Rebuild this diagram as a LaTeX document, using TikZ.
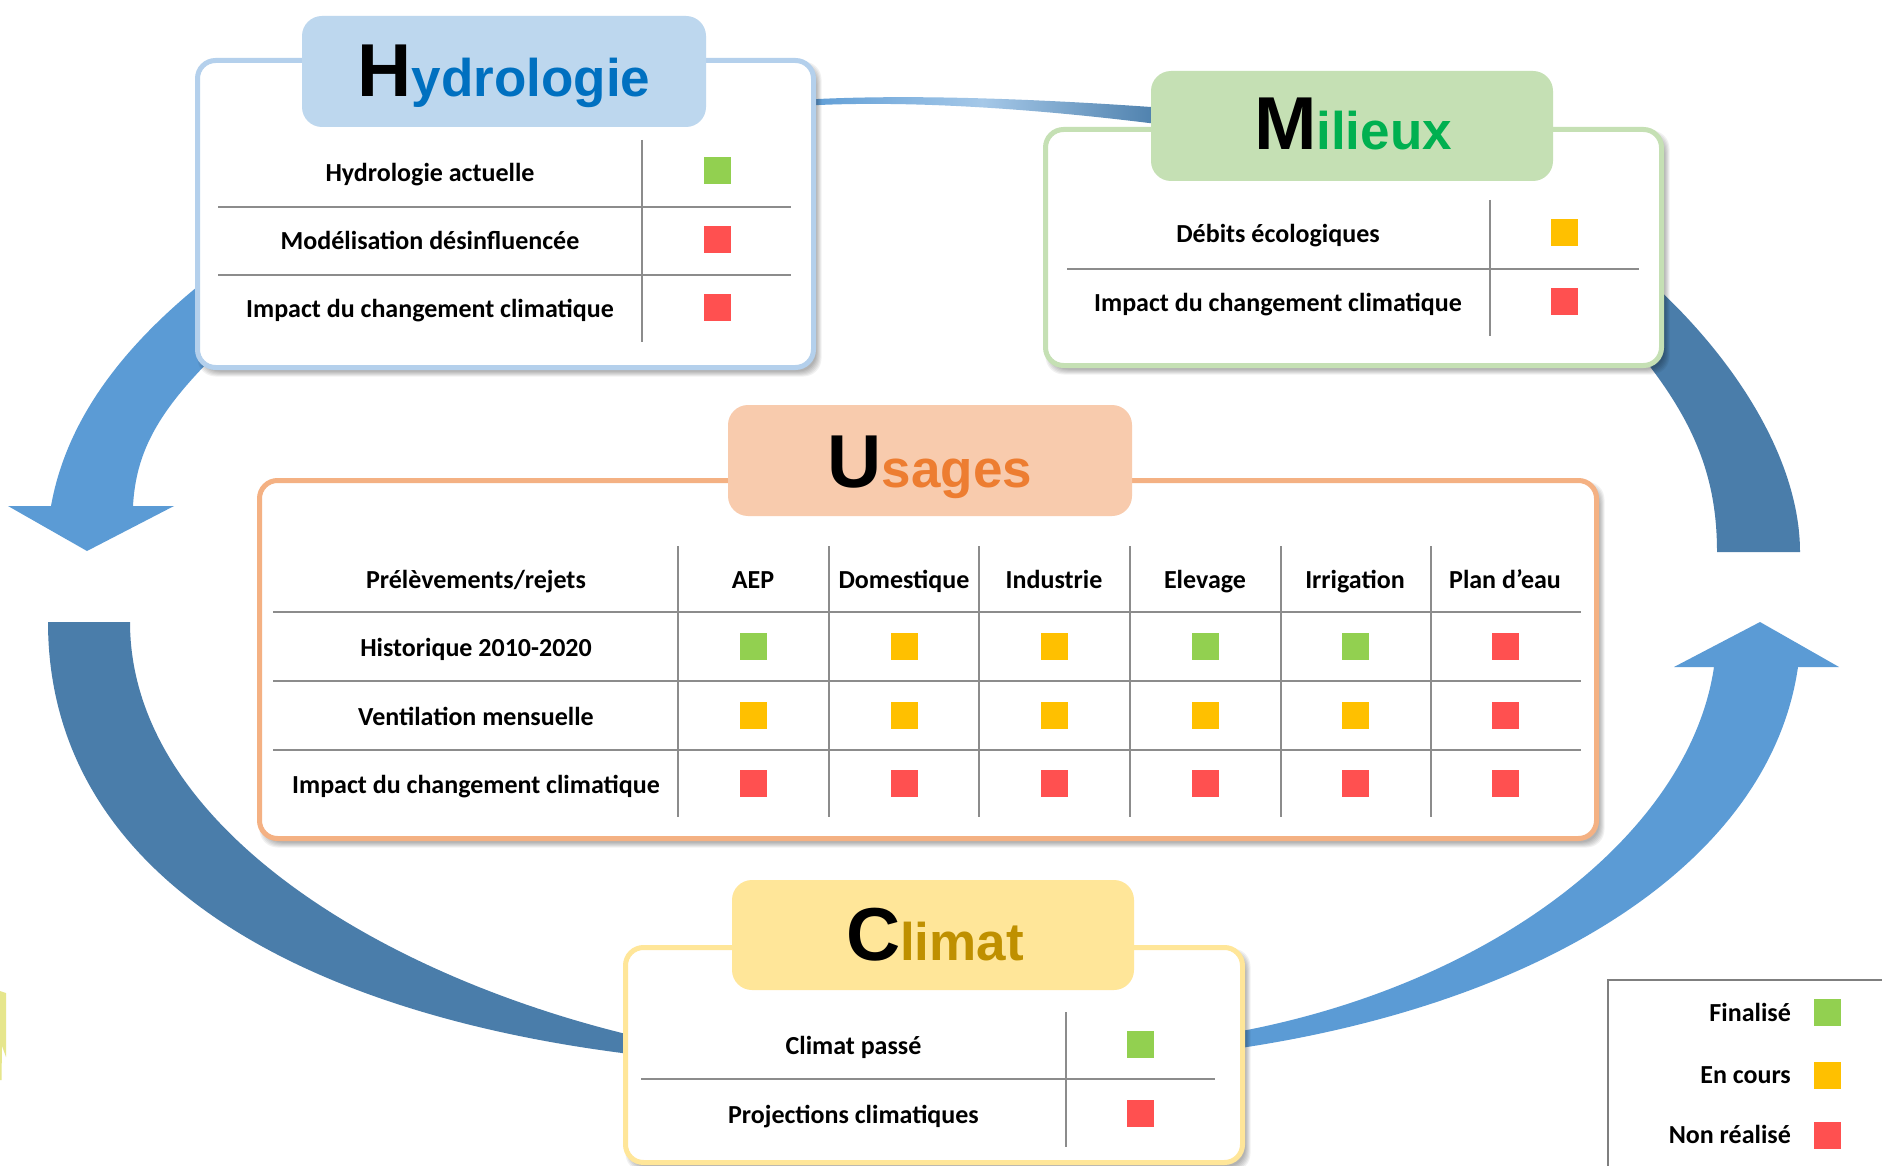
\documentclass[tikz,border=0pt]{standalone}
\usepackage{fontspec}
\usepackage{graphicx}
\setmainfont{Carlito}
\newfontfamily\titlefont{Liberation Sans}
\definecolor{hydtab}{HTML}{BDD7EE}
\definecolor{hydline}{HTML}{B4D0EC}
\definecolor{miltab}{HTML}{C5E0B4}
\definecolor{usetab}{HTML}{F8CBAD}
\definecolor{useline}{HTML}{F4B183}
\definecolor{clitab}{HTML}{FFE699}
\definecolor{hblue}{HTML}{0070C0}
\definecolor{mgreen}{HTML}{00B050}
\definecolor{uorange}{HTML}{ED7D31}
\definecolor{cgold}{HTML}{BF9000}
\definecolor{arrlight}{HTML}{5B9BD5}
\definecolor{arrdark}{HTML}{4A7DAA}
\definecolor{sqgreen}{HTML}{92D050}
\definecolor{sqyellow}{HTML}{FFC000}
\definecolor{sqred}{HTML}{FF5050}
\definecolor{gridgray}{HTML}{8C8C8C}
\definecolor{legline}{HTML}{7F7F7F}
\definecolor{sliver}{HTML}{E6E68C}
\newcommand{\cellfont}{\bfseries\fontsize{26}{30}\selectfont}
\newcommand{\capsz}{\fontsize{75}{80}\selectfont}
\newcommand{\lowsz}{\fontsize{53}{60}\selectfont}
\newcommand{\softshadow}[4]{%
  \foreach \e in {4,3,2,1,0,-1}{%
    \fill[black, opacity=0.055, rounded corners=18pt]
      ({#1-\e+4},{#2-\e+5}) rectangle ({#3+\e+4},{#4+\e+5});
  }%
}
\tikzset{
  panel/.style={draw=#1, line width=5pt, fill=white, rounded corners=18pt, inner sep=0pt},
  tabbox/.style={fill=#1, draw=none, rounded corners=20pt, inner sep=0pt},
  titletxt/.style={anchor=base, inner sep=0pt, font=\titlefont\bfseries},
  cell/.style={anchor=base, inner sep=0pt, font=\cellfont},
  sq/.style={fill=#1, draw=none, minimum width=27pt, minimum height=27pt, inner sep=0pt},
  gline/.style={draw=gridgray, line width=1.6pt},
  legtxt/.style={anchor=base east, inner sep=0pt, font=\cellfont}
}
\begin{document}
\begin{tikzpicture}[x=1pt,y=-1pt]
\useasboundingbox (0,0) rectangle (1882,1166);
\fill[white] (0,0) rectangle (1882,1166);

% ---------- cycle arrows ----------
% left light arrow (Hydrologie -> Usages side)
\fill[arrlight] (260,240) .. controls (150,315) and (70,400) .. (51,506)
  -- (8,506) -- (87,551) -- (174,506) -- (133,506)
  .. controls (136,450) and (160,410) .. (215,355) -- cycle;
% top arc
\shade[left color=arrlight, right color=arrdark, middle color=arrlight!55!white]
  (800,100) .. controls (880,95) and (1000,96) .. (1165,108)
  -- (1165,125) .. controls (1000,104) and (880,101) .. (800,106) -- cycle;
% right dark band
\fill[arrdark] (1600,240) .. controls (1720,330) and (1800,450) .. (1800,552)
  -- (1717,552) .. controls (1717,470) and (1690,410) .. (1620,330) -- cycle;
% bottom-left dark band
\fill[arrdark] (48,622) .. controls (48,870) and (290,1010) .. (622,1053)
  -- (690,1062) -- (690,1040) -- (622,1033)
  .. controls (370,970) and (130,820) .. (130,622) -- cycle;
% bottom-right light arrow
\fill[arrlight] (1190,1057) -- (1247,1047) .. controls (1550,1000) and (1770,860) .. (1798,667)
  -- (1839,667) -- (1760,622) -- (1674,667) -- (1714,667)
  .. controls (1690,830) and (1500,980) .. (1247,1030) -- (1190,1038) -- cycle;

% small sliver at left edge
\fill[sliver] (0,991) -- (6,993) -- (6,1057) -- (2,1046) -- (1.5,1080) -- (0,1080) -- cycle;

% ---------- Hydrologie ----------
\softshadow{197.5}{60.5}{813.5}{367.5}
\node[panel=hydline, minimum width=616pt, minimum height=307pt] (hbox) at (505.5,214) {};
\node[tabbox=hydtab, minimum width=404pt, minimum height=111pt] (htab) at (504,71.5) {};
\node[titletxt] (htitle) at (504,97) {\capsz H\lowsz\textcolor{hblue}{ydrologie}};
\draw[gline] (218,207) -- (791,207);
\draw[gline] (218,275) -- (791,275);
\draw[gline] (642,140) -- (642,342);
\node[cell] (h1) at (430,182) {Hydrologie actuelle};
\node[cell] (h2) at (430,250) {Modélisation désinfluencée};
\node[cell] (h3) at (430,318) {Impact du changement climatique};
\node[sq=sqgreen] (hs1) at (717,171) {};
\node[sq=sqred] (hs2) at (717,240) {};
\node[sq=sqred] (hs3) at (717,308) {};

% ---------- Milieux ----------
\softshadow{1045.5}{129.5}{1661.5}{365.5}
\node[panel=miltab, minimum width=616pt, minimum height=236pt] (mbox) at (1353.5,247.5) {};
\node[tabbox=miltab, minimum width=402pt, minimum height=110pt] (mtab) at (1352,126) {};
\node[titletxt] (mtitle) at (1353,150) {\capsz M\lowsz\textcolor{mgreen}{ilieux}};
\draw[gline] (1067,269) -- (1639,269);
\draw[gline] (1490,200) -- (1490,336);
\node[cell] (m1) at (1278,243) {Débits écologiques};
\node[cell] (m2) at (1278,312) {Impact du changement climatique};
\node[sq=sqyellow] (ms1) at (1564,233) {};
\node[sq=sqred] (ms2) at (1564,302) {};

% ---------- Usages ----------
\softshadow{259.5}{480.5}{1596.5}{838.5}
\node[panel=useline, minimum width=1337pt, minimum height=358pt] (ubox) at (928,659.5) {};
\node[tabbox=usetab, minimum width=404pt, minimum height=111pt] (utab) at (930,460.5) {};
\node[titletxt] (utitle) at (930,487) {\capsz U\lowsz\textcolor{uorange}{sages}};
\foreach \yy in {612,681,750}{\draw[gline] (273,\yy) -- (1581,\yy);}
\foreach \xx in {678,829,979,1130,1281,1431}{\draw[gline] (\xx,546) -- (\xx,817);}
\node[cell] (uh0) at (476,588) {Prélèvements/rejets};
\foreach \c/\t [count=\i] in {753/AEP,904/Domestique,1054/Industrie,1205/Elevage,1355/Irrigation,1505/Plan d’eau}{
  \node[cell] (uh\i) at (\c,588) {\t};
}
\node[cell] (ur1) at (476,656) {Historique 2010-2020};
\node[cell] (ur2) at (476,725) {Ventilation mensuelle};
\node[cell] (ur3) at (476,793) {Impact du changement climatique};
\foreach \c/\col [count=\i] in {753/sqgreen,904/sqyellow,1054/sqyellow,1205/sqgreen,1355/sqgreen,1505/sqred}{
  \node[sq=\col] (ua\i) at (\c,646) {};
}
\foreach \c/\col [count=\i] in {753/sqyellow,904/sqyellow,1054/sqyellow,1205/sqyellow,1355/sqyellow,1505/sqred}{
  \node[sq=\col] (ub\i) at (\c,715) {};
}
\foreach \c [count=\i] in {753,904,1054,1205,1355,1505}{
  \node[sq=sqred] (uc\i) at (\c,783) {};
}

% ---------- Climat ----------
\softshadow{625.5}{947.5}{1242.5}{1162.5}
\node[panel=clitab, minimum width=617pt, minimum height=215pt] (cbox) at (934,1055) {};
\node[tabbox=clitab, minimum width=402pt, minimum height=110pt] (ctab) at (933,935) {};
\node[titletxt] (ctitle) at (935,960) {\capsz C\lowsz\textcolor{cgold}{limat}};
\draw[gline] (641,1079) -- (1215,1079);
\draw[gline] (1066,1012) -- (1066,1147);
\node[cell] (c1) at (853.5,1054) {Climat passé};
\node[cell] (c2) at (853.5,1123) {Projections climatiques};
\node[sq=sqgreen] (cs1) at (1140,1044) {};
\node[sq=sqred] (cs2) at (1140,1113) {};

% ---------- Legend ----------
\draw[legline, line width=1.5pt] (1882,980) -- (1608,980) -- (1608,1166);
\node[legtxt] (l1) at (1791,1021) {Finalisé};
\node[legtxt] (l2) at (1791,1083) {En cours};
\node[legtxt] (l3) at (1791,1143) {Non réalisé};
\node[sq=sqgreen] (ls1) at (1827,1012) {};
\node[sq=sqyellow] (ls2) at (1827,1075) {};
\node[sq=sqred] (ls3) at (1827,1135) {};
\end{tikzpicture}
\end{document}
